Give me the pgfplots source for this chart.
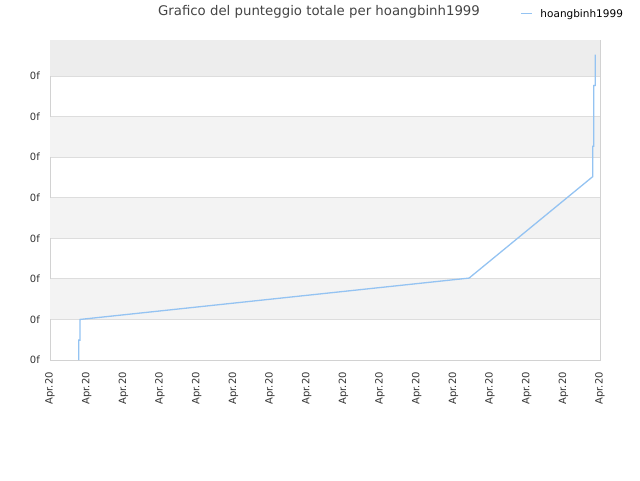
\documentclass[border=0pt]{standalone}
\usepackage{pgfplots}
\pgfplotsset{compat=1.18}
\usepackage{fontspec}
\setmainfont{DejaVu Sans}
\definecolor{linecol}{RGB}{148,195,242}
\definecolor{bandA}{RGB}{243,243,243}
\definecolor{bandB}{RGB}{237,237,237}
\definecolor{gridc}{RGB}{221,221,221}
\definecolor{framec}{RGB}{210,210,210}
\definecolor{txt}{RGB}{51,51,51}
\definecolor{titlec}{RGB}{68,68,68}
\begin{document}
\begin{tikzpicture}[x=1pt,y=1pt]
\useasboundingbox (0,0) rectangle (640,-480);
\begin{axis}[
  at={(50pt,-360pt)}, anchor=south west,
  scale only axis, width=550pt, height=320pt,
  xmin=0, xmax=15, ymin=0, ymax=7.89,
  axis line style={draw=framec},
  xtick={0,...,15},
  xticklabels={Apr.20,Apr.20,Apr.20,Apr.20,Apr.20,Apr.20,Apr.20,Apr.20,Apr.20,Apr.20,Apr.20,Apr.20,Apr.20,Apr.20,Apr.20,Apr.20},
  ytick={0,...,7},
  yticklabels={0f,0f,0f,0f,0f,0f,0f,0f},
  major tick length=0pt,
  xticklabel style={rotate=90, anchor=east, font=\fontsize{10}{12}\selectfont, text=txt, inner sep=0pt, xshift=-12pt},
  yticklabel style={font=\fontsize{10}{12}\selectfont, text=txt, inner sep=0pt, xshift=-10pt},
  ymajorgrids, grid style={draw=gridc, line width=0.8pt},
  legend style={at={(0.8545,1.082)}, anchor=west, draw=none, fill=none, font=\fontsize{10.5}{12}\selectfont, inner sep=0pt},
  legend image code/.code={\draw[#1] (0pt,0pt) -- (11pt,0pt); \path (17pt,0pt);},
  clip=false,
]
\fill[bandA] (axis cs:0,1) rectangle (axis cs:15,2);
\fill[bandA] (axis cs:0,3) rectangle (axis cs:15,4);
\fill[bandA] (axis cs:0,5) rectangle (axis cs:15,6);
\fill[bandB] (axis cs:0,7) rectangle (axis cs:15,7.89);
\addplot[linecol, line width=1.3pt] coordinates {
 (0.783,0) (0.783,0.49) (0.818,0.49) (0.818,1.0)
 (11.43,2.02) (14.80,4.52) (14.80,5.27) (14.83,5.27) (14.83,6.77) (14.87,6.77) (14.87,7.53)
};
\addlegendentry{hoangbinh1999}
\end{axis}
\node[font=\fontsize{13.3}{15}\selectfont, text=titlec] at (319,-12) {Grafico del punteggio totale per hoangbinh1999};
\end{tikzpicture}
\end{document}
